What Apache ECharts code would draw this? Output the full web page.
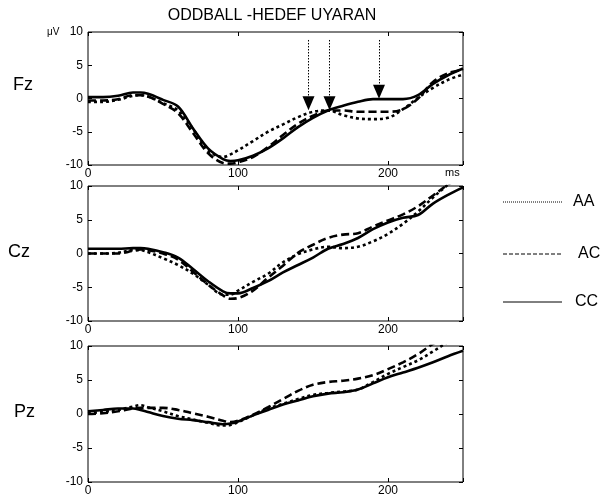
<!DOCTYPE html>
<html>
<head>
<meta charset="utf-8">
<script src="https://cdn.jsdelivr.net/npm/echarts@6/dist/echarts.min.js"></script>
<style>html,body{margin:0;padding:0;background:#fff}#c{width:601px;height:499px}</style>
</head>
<body>
<div id="c"></div>
<script>
var times = [0,10,20,30,35,40,50,60,70,80,90,95,100,110,120,130,140,150,160,170,180,190,200,210,220,230,240,250];
var yTicks = [-10,-5,0,5,10];
var xTicks = [0,100,200];
var channels = ['Fz','Cz','Pz'];
var seriesNames = ['AA','AC','CC'];

var fzAA = [-0.5,-0.5,-0.2,0.4,0.5,0.3,-0.7,-1.8,-4.6,-7.8,-8.8,-8.4,-7.8,-6.4,-5.0,-3.9,-2.8,-2.0,-1.8,-2.5,-3.0,-3.1,-2.9,-1.6,0.1,1.6,2.8,3.6];
var fzAC = [-0.3,-0.3,-0.1,0.5,0.5,0.3,-0.8,-2.2,-5.2,-8.2,-9.7,-9.8,-9.6,-8.8,-7.3,-5.5,-3.8,-2.6,-1.8,-1.8,-2.0,-2.0,-2.0,-1.6,0.0,2.5,3.8,4.3];
var fzCC = [0.2,0.2,0.4,0.9,0.9,0.7,-0.2,-1.2,-4.5,-7.5,-9.1,-9.4,-9.3,-8.6,-7.5,-6.0,-4.3,-2.9,-1.8,-1.1,-0.5,-0.1,-0.1,-0.1,0.5,2.2,3.5,4.5];

var czAA = [0,0,0.1,0.5,0.5,0.2,-0.7,-1.7,-3.0,-4.6,-6.1,-6.1,-5.5,-4.2,-3.0,-1.3,-0.1,0.6,1.0,0.8,1.0,1.8,2.9,4.4,6.2,8.3,10.2,12];
var czAC = [0,0,0,0.4,0.6,0.5,0.0,-0.9,-2.7,-4.6,-6.2,-6.7,-6.6,-5.5,-3.6,-1.8,0.1,1.3,2.3,2.8,3.0,4.0,4.9,5.8,7.0,8.6,10.2,11.5];
var czCC = [0.7,0.7,0.7,0.8,0.8,0.7,0.2,-0.6,-2.3,-4.1,-5.6,-5.9,-5.9,-5.1,-4.1,-2.8,-1.7,-0.6,0.7,1.4,2.3,3.6,4.6,5.3,5.7,7.4,8.7,9.8];

var pzAA = [0.1,0.3,0.6,1.1,1.3,1.0,0.4,-0.3,-0.8,-1.3,-1.7,-1.6,-1.2,-0.2,0.8,1.5,2.2,2.8,3.1,3.3,3.6,4.7,5.9,6.9,7.9,9.2,10.6,12];
var pzAC = [0,0.1,0.4,0.8,0.9,0.9,0.9,0.6,0.1,-0.4,-1.0,-1.2,-1.0,-0.1,1.0,2.2,3.4,4.3,4.7,4.9,5.2,5.7,6.6,7.6,8.8,10.3,11.5,12.5];
var pzCC = [0.4,0.6,0.8,0.8,0.6,0.3,-0.3,-0.7,-0.9,-1.2,-1.5,-1.4,-1.1,-0.2,0.6,1.4,2.0,2.6,3.0,3.2,3.6,4.5,5.4,6.1,6.8,7.6,8.5,9.3];

var arrowTimes = [147,161,194];
var arrowTops = [8.8,8.8,8.8];
var arrowTips = [-0.7,-0.7,1.0];

var values = [[fzAA,fzAC,fzCC],[czAA,czAC,czCC],[pzAA,pzAC,pzCC]];
var lineTypes = [[3,3],[8,4],'solid'];
var legendDash = [[1,1],[4,2],null];

var grids = [
  {left:88, top:32, width:375, height:133},
  {left:88, top:186, width:375, height:135},
  {left:88, top:346, width:375, height:136}
];

var xAxes = [], yAxes = [], series = [];
var fontFam = 'Liberation Sans, Arial, sans-serif';
var tick = {inside:true, length:4, lineStyle:{color:'#000'}};
grids.forEach(function(g, gi){
  g.show = true; g.borderColor = '#000'; g.borderWidth = 1; g.backgroundColor = '#fff';
  xAxes.push({type:'value', gridIndex:gi, min:0, max:250, interval:100, position:'bottom',
    axisLine:{show:false, onZero:false}, splitLine:{show:false}, axisTick:tick,
    axisLabel:{color:'#000', fontSize:12, fontFamily:fontFam, margin:3,
      formatter:function(v){return xTicks.indexOf(v)>=0 ? String(v) : '';}}});
  xAxes.push({type:'value', gridIndex:gi, min:0, max:250, interval:100, position:'top',
    axisLine:{show:false, onZero:false}, splitLine:{show:false}, axisTick:tick, axisLabel:{show:false}});
  yAxes.push({type:'value', gridIndex:gi, min:-10, max:10, interval:5, position:'left',
    axisLine:{show:false, onZero:false}, splitLine:{show:false}, axisTick:tick,
    axisLabel:{color:'#000', fontSize:12, fontFamily:fontFam, margin:5,
      formatter:function(v){return yTicks.indexOf(v)>=0 ? String(v) : '';}}});
  yAxes.push({type:'value', gridIndex:gi, min:-10, max:10, interval:5, position:'right',
    axisLine:{show:false, onZero:false}, splitLine:{show:false}, axisTick:tick, axisLabel:{show:false}});
  seriesNames.forEach(function(name, si){
    var s = {
      name:name, type:'line', xAxisIndex:gi*2, yAxisIndex:gi*2, showSymbol:false, symbol:'none',
      smooth:0.35, clip:true, z: 3 - si,
      lineStyle:{color:'#000', width:2.6, type:lineTypes[si]},
      itemStyle:{color:'#000'},
      data: times.map(function(t, k){ return [t, values[gi][si][k]]; })
    };
    if (gi === 0 && si === 2) {
      s.markLine = {
        silent:true, symbol:['none','triangle'], symbolSize:[12,14],
        lineStyle:{color:'#000', width:1, type:[1.5,1.5]},
        label:{show:false},
        data: arrowTimes.map(function(t, k){
          return [{coord:[t, arrowTops[k]]},{coord:[t, arrowTips[k]]}];
        })
      };
    }
    series.push(s);
  });
});

var legendY = [202, 254, 302];
var legendTextX = [573, 578, 575];
var graphics = [
  {type:'text', x:272, y:16, style:{text:'ODDBALL -HEDEF UYARAN', fill:'#000', font:'16px '+fontFam, textAlign:'center', textVerticalAlign:'middle'}},
  {type:'text', x:13, y:85, style:{text:channels[0], fill:'#000', font:'18px '+fontFam, textVerticalAlign:'middle'}},
  {type:'text', x:8, y:252, style:{text:channels[1], fill:'#000', font:'18px '+fontFam, textVerticalAlign:'middle'}},
  {type:'text', x:14, y:412, style:{text:channels[2], fill:'#000', font:'18px '+fontFam, textVerticalAlign:'middle'}},
  {type:'text', x:47, y:32, style:{text:'\u03bcV', fill:'#000', font:'10px '+fontFam, textVerticalAlign:'middle'}},
  {type:'text', x:445, y:173, style:{text:'ms', fill:'#000', font:'11px '+fontFam, textVerticalAlign:'middle'}}
];
seriesNames.forEach(function(name, i){
  graphics.push({type:'line', shape:{x1:503, y1:legendY[i], x2:562, y2:legendY[i]},
    style:{stroke:'#000', lineWidth:1, lineDash:legendDash[i]}});
  graphics.push({type:'text', x:legendTextX[i], y:legendY[i], style:{text:name, fill:'#000', font:'16px '+fontFam, textVerticalAlign:'middle'}});
});

var chart = echarts.init(document.getElementById('c'), null, {renderer:'canvas'});
chart.setOption({
  animation:false,
  backgroundColor:'#fff',
  grid:grids, xAxis:xAxes, yAxis:yAxes, series:series,
  graphic:graphics
});
</script>
</body>
</html>
